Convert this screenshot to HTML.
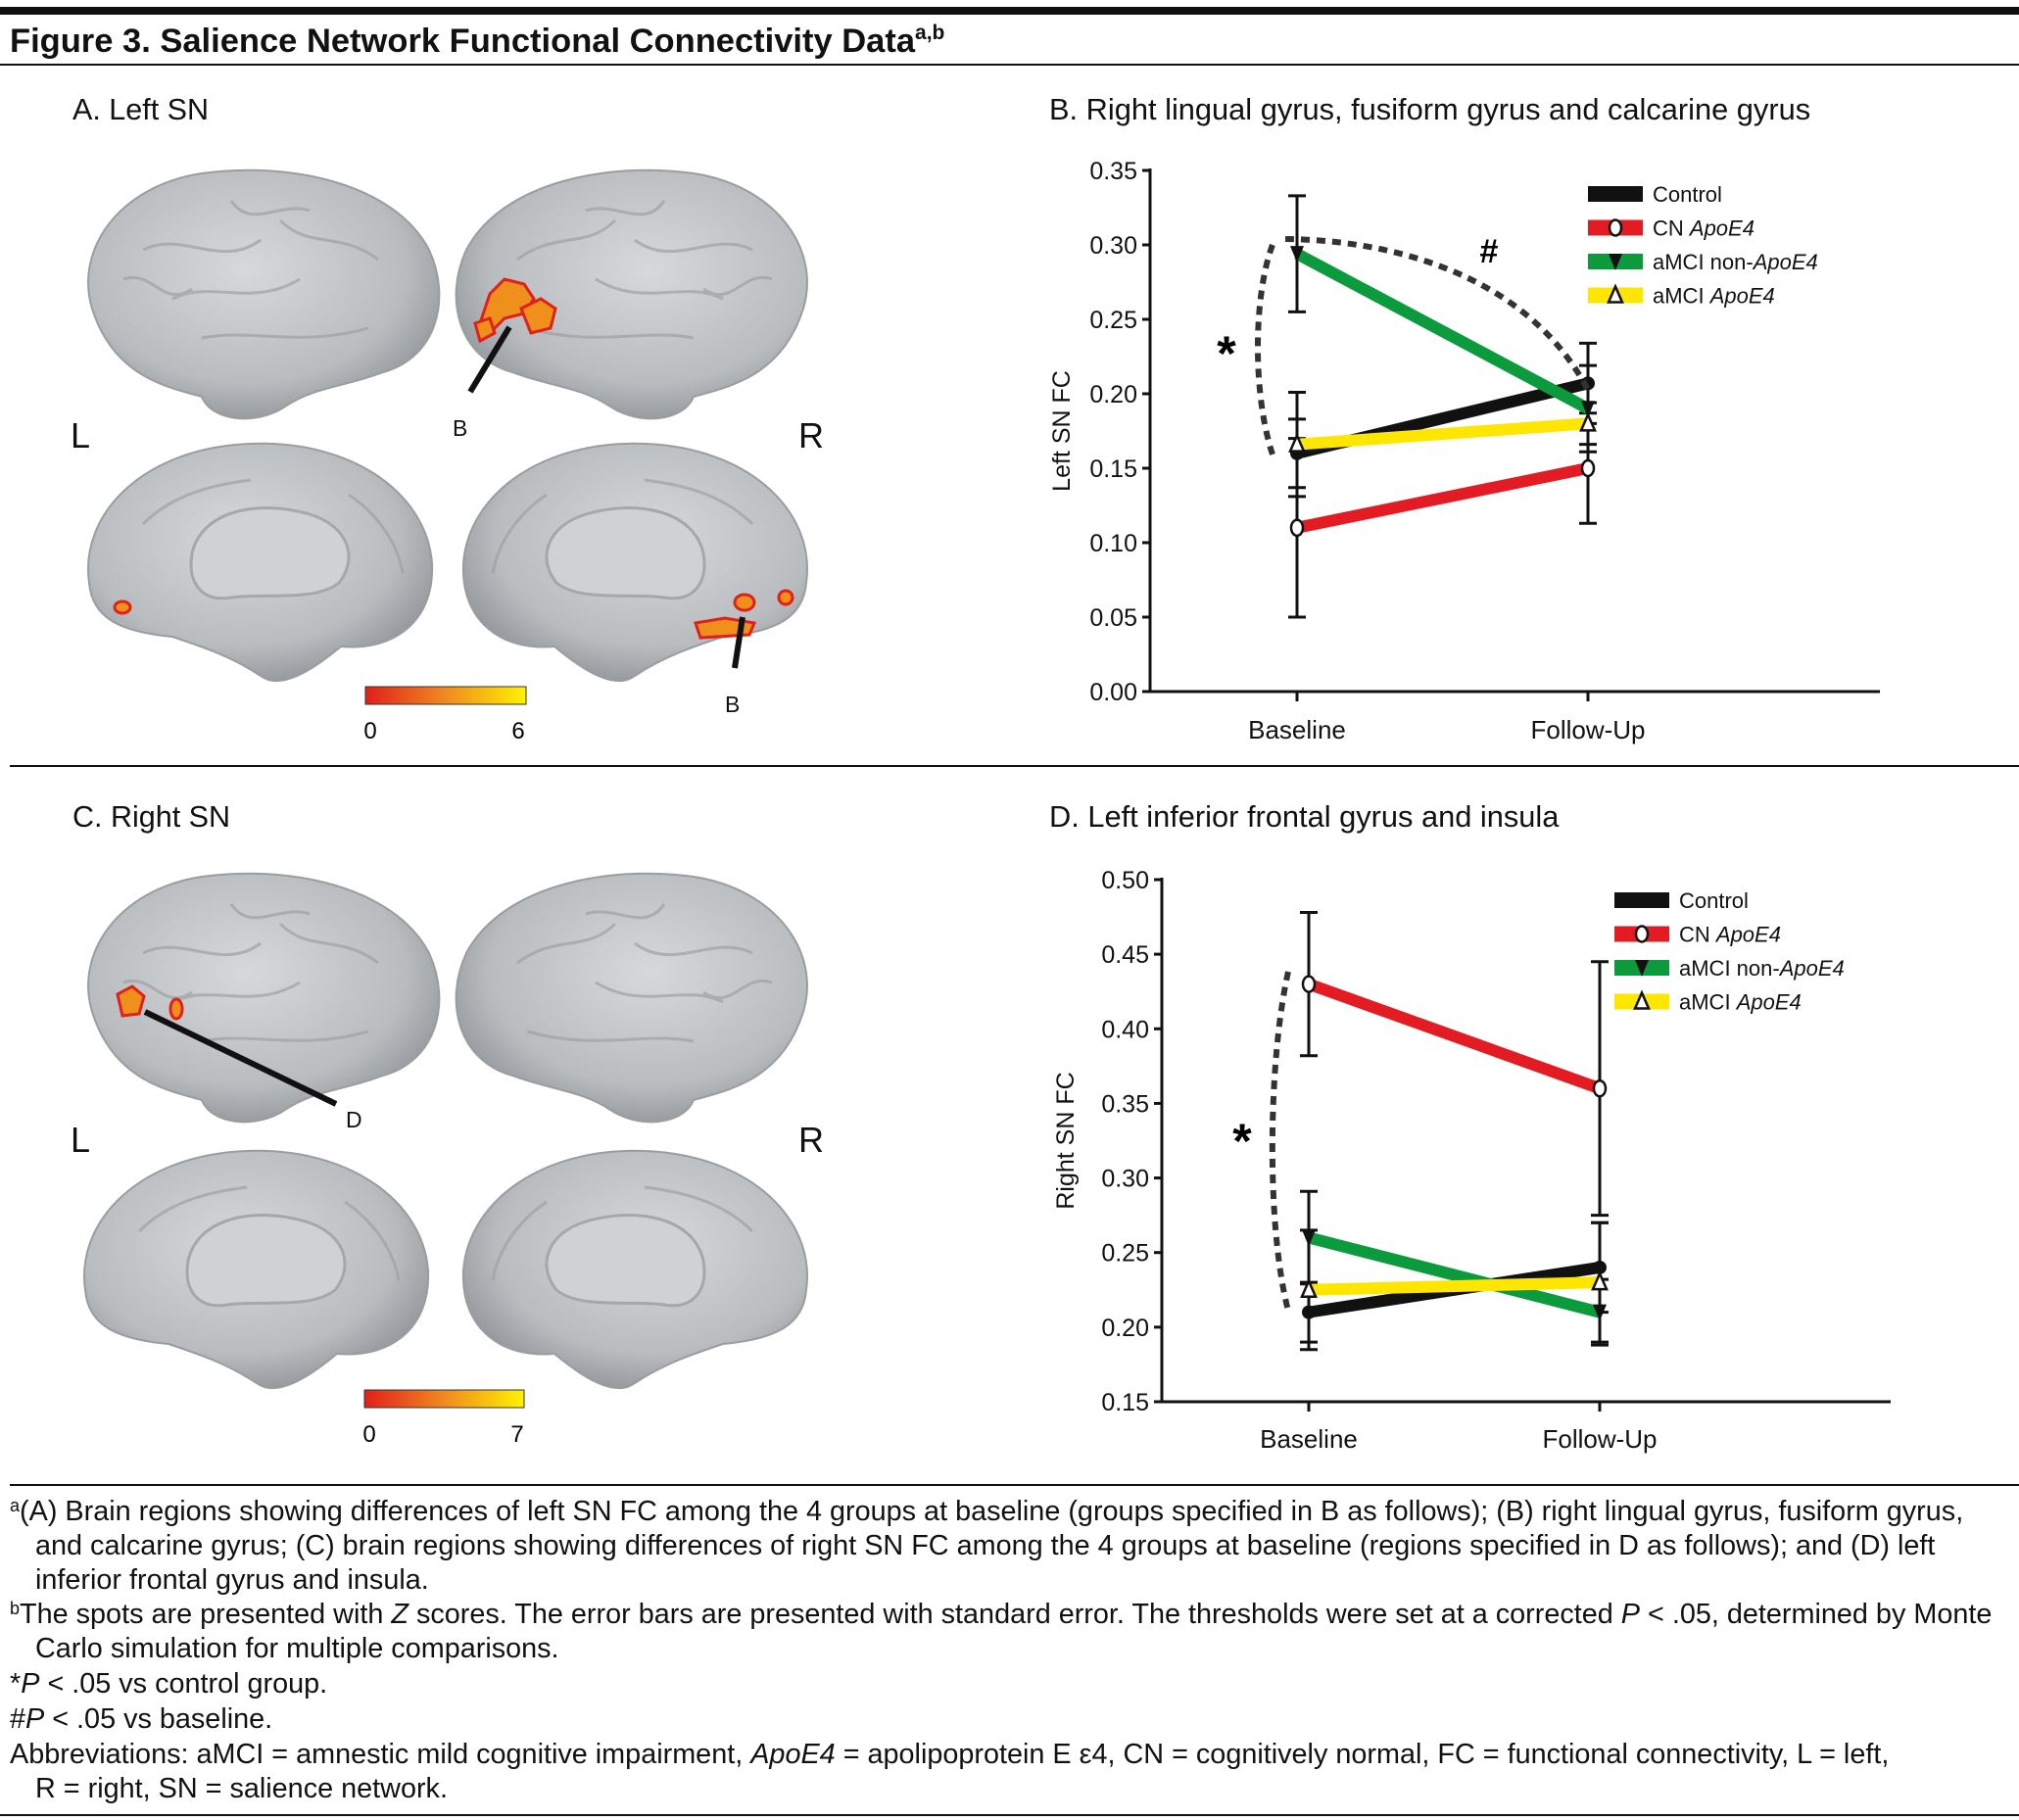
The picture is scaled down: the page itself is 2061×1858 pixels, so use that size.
<!DOCTYPE html>
<html><head><meta charset="utf-8"><style>
html,body{margin:0;padding:0;background:#fff}
svg{display:block;font-family:"Liberation Sans",sans-serif}
</style></head><body>
<svg id="page" width="2061" height="1858" viewBox="0 0 2061 1858" xmlns="http://www.w3.org/2000/svg">
<defs>
<radialGradient id="brainG" cx="45%" cy="40%" r="65%"><stop offset="0" stop-color="#d6d8da"/><stop offset="0.7" stop-color="#b9bcbf"/><stop offset="1" stop-color="#8d9094"/></radialGradient>
<linearGradient id="cbar" x1="0" x2="1"><stop offset="0" stop-color="#e0201a"/><stop offset="0.5" stop-color="#f08a20"/><stop offset="1" stop-color="#fff200"/></linearGradient>
<g id="latBrain"><path d="M8,150 C-10,90 35,25 120,12 C205,0 315,20 352,90 C375,140 360,200 305,215 C265,230 235,230 205,250 C175,270 130,265 120,240 C85,230 30,220 8,150Z" fill="url(#brainG)" stroke="#9a9da0" stroke-width="2"/>
<path d="M60,90 C100,70 140,110 180,80 M90,140 C130,120 170,150 220,120 M200,60 C230,90 260,70 300,100 M120,180 C170,170 220,190 290,170 M40,120 C70,110 80,150 110,130 M150,40 C170,70 200,40 230,50" fill="none" stroke="#9ea1a4" stroke-width="3" opacity="0.7"/></g>
<g id="medBrain"><path d="M5,150 C-5,80 60,12 170,8 C275,4 350,60 355,130 C358,190 315,220 262,215 C232,240 200,260 180,245 C150,225 120,215 90,205 C35,200 8,185 5,150Z" fill="url(#brainG)" stroke="#9a9da0" stroke-width="2"/>
<path d="M110,120 C120,75 180,65 230,80 C270,92 280,125 260,150 C235,170 180,160 150,165 C120,170 105,150 110,120Z" fill="#cfd1d3" stroke="#a5a8ab" stroke-width="3"/>
<path d="M60,90 C90,60 130,50 170,45 M270,60 C300,80 320,110 325,140" fill="none" stroke="#9ea1a4" stroke-width="3" opacity="0.7"/></g>
</defs>

<rect x="0" y="7" width="2061" height="8" fill="#111"/>
<text x="10" y="53" font-size="34.5" font-weight="bold" fill="#111">Figure 3. Salience Network Functional Connectivity Data<tspan font-size="21" dy="-13">a,b</tspan></text>
<rect x="0" y="65" width="2061" height="2" fill="#111"/>

<text x="74" y="122" font-size="30.5" fill="#111">A. Left SN</text>
<text x="1071" y="122" font-size="30.8" fill="#111">B. Right lingual gyrus, fusiform gyrus and calcarine gyrus</text>
<rect x="10" y="781" width="2051" height="2" fill="#111"/>
<text x="74" y="844" font-size="30.5" fill="#111">C. Right SN</text>
<text x="1071" y="844" font-size="30.8" fill="#111">D. Left inferior frontal gyrus and insula</text>

<g transform="translate(86,165)"><use href="#latBrain"/></g>
<g transform="translate(828,165) scale(-1,1)"><use href="#latBrain"/></g>
<g transform="translate(86,445)"><use href="#medBrain"/></g>
<g transform="translate(828,445) scale(-1,1)"><use href="#medBrain"/></g>
<g fill="#f0901c" stroke="#e0201a" stroke-width="3">
<path d="M500,300 l15,-15 20,5 10,15 -10,15 -20,5 -10,10 -15,-5Z"/><path d="M532,315 l20,-10 15,10 -5,20 -20,5Z"/><path d="M485,330 l15,-5 5,15 -15,8Z"/>
<ellipse cx="125" cy="620" rx="8" ry="6"/><path d="M710,636 l30,-5 30,5 -5,12 -50,3Z"/><ellipse cx="760" cy="615" rx="10" ry="8"/><ellipse cx="802" cy="610" rx="7" ry="7"/></g>
<line x1="520" y1="334" x2="480" y2="400" stroke="#111" stroke-width="6"/>
<line x1="758" y1="630" x2="750" y2="682" stroke="#111" stroke-width="6"/>
<text x="462" y="445" font-size="23" fill="#111">B</text>
<text x="740" y="727" font-size="23" fill="#111">B</text>
<text x="72" y="457" font-size="36" fill="#111">L</text>
<text x="815" y="457" font-size="36" fill="#111">R</text>
<rect x="373" y="701" width="164" height="18" fill="url(#cbar)" stroke="#333" stroke-width="1"/>
<text x="378" y="754" font-size="24" text-anchor="middle">0</text>
<text x="529" y="754" font-size="24" text-anchor="middle">6</text>

<g transform="translate(86,883)"><use href="#latBrain"/></g>
<g transform="translate(828,883) scale(-1,1)"><use href="#latBrain"/></g>
<g transform="translate(82,1167)"><use href="#medBrain"/></g>
<g transform="translate(828,1167) scale(-1,1)"><use href="#medBrain"/></g>
<g fill="#f0901c" stroke="#e0201a" stroke-width="3"><path d="M120,1015 l15,-8 12,10 -5,18 -17,2Z"/><ellipse cx="180" cy="1030" rx="6" ry="10"/></g>
<line x1="148" y1="1033" x2="343" y2="1127" stroke="#111" stroke-width="6"/>
<text x="353" y="1151" font-size="23" fill="#111">D</text>
<text x="72" y="1176" font-size="36" fill="#111">L</text>
<text x="815" y="1176" font-size="36" fill="#111">R</text>
<rect x="372" y="1419" width="163" height="18" fill="url(#cbar)" stroke="#333" stroke-width="1"/>
<text x="377" y="1472" font-size="24" text-anchor="middle">0</text>
<text x="528" y="1472" font-size="24" text-anchor="middle">7</text>

<g id="chartB"></g>
<g id="chartD"></g>

<path d="M1299,250 C1280,300 1278,400 1299,464" fill="none" stroke="#333" stroke-width="6" stroke-dasharray="9,7"/>
<path d="M1312,244 C1420,245 1560,280 1622,400" fill="none" stroke="#333" stroke-width="6" stroke-dasharray="9,7"/>
<text x="1252" y="378" font-size="50" font-weight="bold" text-anchor="middle">*</text>
<text x="1520" y="268" font-size="34" font-weight="bold" text-anchor="middle">#</text>
<path d="M1315,992 C1295,1080 1292,1250 1315,1338" fill="none" stroke="#333" stroke-width="6" stroke-dasharray="9,7"/>
<text x="1268" y="1182" font-size="50" font-weight="bold" text-anchor="middle">*</text>

<rect x="10" y="1515" width="2051" height="2" fill="#111"/>
<g font-size="28.8" fill="#111">
<text x="10" y="1552"><tspan font-size="18" dy="-9">a</tspan><tspan dy="9">(A) Brain regions showing differences of left SN FC among the 4 groups at baseline (groups specified in B as follows); (B) right lingual gyrus, fusiform gyrus,</tspan></text>
<text x="36" y="1587">and calcarine gyrus; (C) brain regions showing differences of right SN FC among the 4 groups at baseline (regions specified in D as follows); and (D) left</text>
<text x="36" y="1622">inferior frontal gyrus and insula.</text>
<text x="10" y="1657"><tspan font-size="18" dy="-9">b</tspan><tspan dy="9">The spots are presented with <tspan font-style="italic">Z</tspan> scores. The error bars are presented with standard error. The thresholds were set at a corrected <tspan font-style="italic">P</tspan> &lt; .05, determined by Monte</tspan></text>
<text x="36" y="1692">Carlo simulation for multiple comparisons.</text>
<text x="10" y="1728">*<tspan font-style="italic">P</tspan> &lt; .05 vs control group.</text>
<text x="10" y="1764">#<tspan font-style="italic">P</tspan> &lt; .05 vs baseline.</text>
<text x="10" y="1800">Abbreviations: aMCI = amnestic mild cognitive impairment, <tspan font-style="italic">ApoE4</tspan> = apolipoprotein E ε4, CN = cognitively normal, FC = functional connectivity, L = left,</text>
<text x="36" y="1835">R = right, SN = salience network.</text>
</g>
<rect x="0" y="1852" width="2061" height="2" fill="#111"/>
</svg>
<script>
const NS='http://www.w3.org/2000/svg';
const categories=['Baseline','Follow-Up'];
const seriesNames=['Control','CN ApoE4','aMCI non-ApoE4','aMCI ApoE4'];
const seriesColors=['#111111','#e31b23','#0c9b3c','#ffe600'];
const markerTypes=['dot','circle','down','up'];
const bTicks=[0,0.05,0.10,0.15,0.20,0.25,0.30,0.35];
const bControl=[0.160,0.207];
const bCN=[0.110,0.150];
const bNon=[0.294,0.190];
const bApo=[0.166,0.180];
const bErrControl=[0.023,0.027];
const bErrCN=[0.060,0.037];
const bErrNon=[0.039,0.029];
const bErrApo=[0.035,0.014];
const dTicks=[0.15,0.20,0.25,0.30,0.35,0.40,0.45,0.50];
const dControl=[0.210,0.240];
const dCN=[0.430,0.360];
const dNon=[0.260,0.210];
const dApo=[0.225,0.230];
const dErrControl=[0.020,0.030];
const dErrCN=[0.048,0.085];
const dErrNon=[0.031,0.022];
const dErrApo=[0.040,0.040];

function mk(tag,attrs,parent){const e=document.createElementNS(NS,tag);for(const k in attrs)e.setAttribute(k,attrs[k]);parent.appendChild(e);return e;}

function drawChart(g,cfg){
  const {x0,x1,yTop,yBot,vMin,vMax,ticks,cx,label,vals,errs,legX,legY,catY,yLabelX}=cfg;
  const ys=v=>yBot-(v-vMin)/(vMax-vMin)*(yBot-yTop);
  const xs=i=>cx[i];
  let e=mk('line',{x1:x0,y1:yTop-2,x2:x0,y2:yBot,stroke:'#111','stroke-width':3},g);
  
  e=mk('line',{x1:x0-8,y1:yBot,x2:x1,y2:yBot,stroke:'#111','stroke-width':3},g);
  
  ticks.forEach(t=>{
    const y=ys(t);
    let l=mk('line',{x1:x0-8,y1:y,x2:x0,y2:y,stroke:'#111','stroke-width':3},g);
    
    let tx=mk('text',{x:x0-13,y:y+9,'font-size':25,'text-anchor':'end',fill:'#111'},g);
    tx.textContent=t.toFixed(2);
    
  });
  categories.forEach((c,i)=>{
    let l=mk('line',{x1:xs(i),y1:yBot,x2:xs(i),y2:yBot+10,stroke:'#111','stroke-width':3},g);
    
    let tx=mk('text',{x:xs(i),y:catY,'font-size':26,'text-anchor':'middle',fill:'#111'},g);
    tx.textContent=c;
    
  });
  let yl=mk('text',{x:0,y:0,'font-size':25,'text-anchor':'middle',fill:'#111',transform:`translate(${yLabelX},${(yTop+yBot)/2}) rotate(-90)`},g);
  yl.textContent=label;
  vals.forEach((s,si)=>{s.forEach((v,i)=>{
    const x=xs(i),yt=ys(v+errs[si][i]),yb=ys(v-errs[si][i]);
    let p=mk('path',{d:`M${x},${yt}V${yb}M${x-9},${yt}H${x+9}M${x-9},${yb}H${x+9}`,stroke:'#111','stroke-width':3,fill:'none'},g);
    
  });});
  vals.forEach((s,si)=>{
    let l=mk('line',{x1:xs(0),y1:ys(s[0]),x2:xs(1),y2:ys(s[1]),stroke:seriesColors[si],'stroke-width':12},g);
    
  });
  function marker(x,y,t,parent){
    let m;
    if(t==='dot')m=mk('circle',{cx:x,cy:y,r:7,fill:'#111'},parent);
    else if(t==='circle')m=mk('ellipse',{cx:x,cy:y,rx:6,ry:8,fill:'#fff',stroke:'#111','stroke-width':2.5},parent);
    else if(t==='down')m=mk('path',{d:`M${x-7},${y-8}H${x+7}L${x},${y+9}Z`,fill:'#111'},parent);
    else m=mk('path',{d:`M${x-7},${y+7}H${x+7}L${x},${y-9}Z`,fill:'#fff',stroke:'#111','stroke-width':2.5},parent);
    return m;
  }
  vals.forEach((s,si)=>{s.forEach((v,i)=>{
    let m=marker(xs(i),ys(v),markerTypes[si],g);
    
  });});
  seriesNames.forEach((n,si)=>{
    const y=legY+si*34.5;
    let r=mk('rect',{x:legX,y:y-8,width:56,height:16,fill:seriesColors[si]},g);
    
    let m=marker(legX+28,y,markerTypes[si],g);
    
    let tx=mk('text',{x:legX+66,y:y+8,'font-size':22,fill:'#111'},g);
    
    const idx=n.indexOf('ApoE4');
    if(idx>=0){tx.appendChild(document.createTextNode(n.slice(0,idx)));const ts=mk('tspan',{'font-style':'italic'},tx);ts.textContent='ApoE4';}
    else tx.textContent=n;
  });
}
drawChart(document.getElementById('chartB'),{x0:1174,x1:1919,yTop:174,yBot:706,vMin:0,vMax:0.35,ticks:bTicks,cx:[1324,1621],label:'Left SN FC',
 vals:[bControl,bCN,bNon,bApo],errs:[bErrControl,bErrCN,bErrNon,bErrApo],legX:1621,legY:198,catY:754,yLabelX:1092});
drawChart(document.getElementById('chartD'),{x0:1186,x1:1930,yTop:898,yBot:1431,vMin:0.15,vMax:0.50,ticks:dTicks,cx:[1336,1633],label:'Right SN FC',
 vals:[dControl,dCN,dNon,dApo],errs:[dErrControl,dErrCN,dErrNon,dErrApo],legX:1648,legY:919,catY:1478,yLabelX:1096});
</script>
</body></html>
